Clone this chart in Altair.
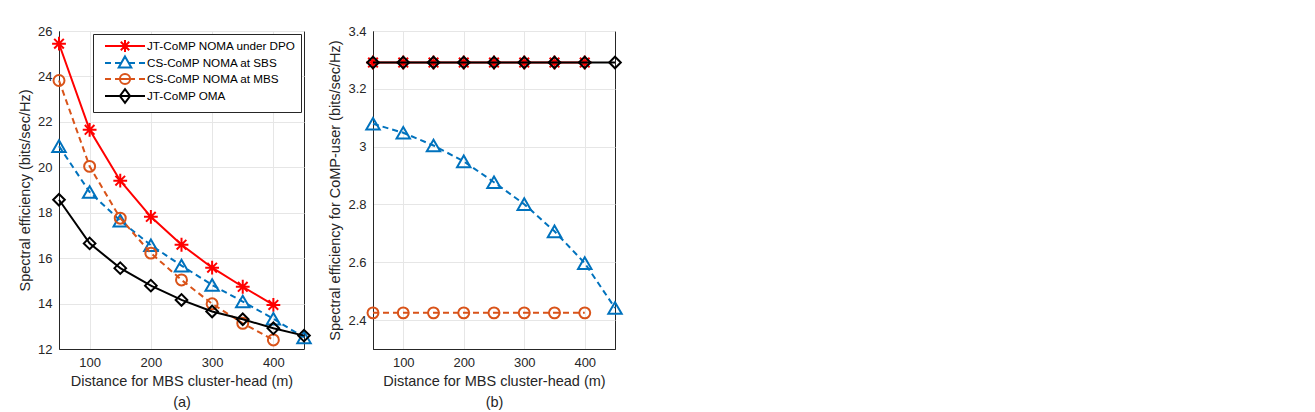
import altair as alt
import pandas as pd

# ---------------- data ----------------
dist_full = [50, 100, 150, 200, 250, 300, 350, 400, 450]
dist_8 = [50, 100, 150, 200, 250, 300, 350, 400]

series_names = ["JT-CoMP NOMA under DPO", "CS-CoMP NOMA at SBS",
                "CS-CoMP NOMA at MBS", "JT-CoMP OMA"]
series_colors = ["#ff0000", "#0072bd", "#d95319", "#000000"]

# panel (a): total spectral efficiency
a_jt_noma = [25.44, 21.65, 19.41, 17.82, 16.59, 15.58, 14.74, 13.94]
a_cs_sbs = [20.93, 18.91, 17.65, 16.57, 15.67, 14.82, 14.09, 13.33, 12.51]
a_cs_mbs = [23.82, 20.04, 17.76, 16.22, 15.04, 13.99, 13.13, 12.40]
a_jt_oma = [18.57, 16.65, 15.56, 14.79, 14.16, 13.65, 13.31, 12.91, 12.59]

# panel (b): spectral efficiency of the CoMP-user
b_jt_noma = [3.291, 3.291, 3.291, 3.291, 3.291, 3.291, 3.291, 3.291]
b_cs_sbs = [3.079, 3.048, 3.004, 2.949, 2.877, 2.801, 2.707, 2.597, 2.442]
b_cs_mbs = [2.425, 2.425, 2.425, 2.425, 2.425, 2.425, 2.425, 2.425]
b_jt_oma = [3.291, 3.291, 3.291, 3.291, 3.291, 3.291, 3.291, 3.291, 3.291]

x_ticks = [100, 200, 300, 400]
a_y_ticks = [12, 14, 16, 18, 20, 22, 24, 26]
b_y_ticks = [2.4, 2.6, 2.8, 3.0, 3.2, 3.4]

# ---------------- styles ----------------
FONT = "Liberation Sans"
ASTERISK = "M-1,0L1,0M0,-1L0,1M-0.7,-0.7L0.7,0.7M-0.7,0.7L0.7,-0.7"
marker_shapes = [ASTERISK, "triangle-up", "circle", "diamond"]
marker_sizes = [190, 180, 120, 135]
dashes = [None, [6, 4], [6, 4], None]

# legend symbols: line segment + marker (unit = sqrt(144)/2 = 6 px)
DASHED = "M-3.333,0L-2.333,0M-1.667,0L-0.667,0M0.667,0L1.667,0M2.333,0L3.333,0"
legend_shapes = [
    "M-3.333,0L3.333,0M-1,0L1,0M0,-1L0,1M-0.7,-0.7L0.7,0.7M-0.7,0.7L0.7,-0.7",
    DASHED + "M0,-1.1L1.05,0.75L-1.05,0.75Z",
    DASHED + "M-0.85,0L0.85,0M0.85,0A0.85,0.85,0,1,1,-0.85,0A0.85,0.85,0,1,1,0.85,0",
    "M-3.333,0L3.333,0M0,-1.15L0.85,0L0,1.15L-0.85,0Z",
]


def frame(xs, ys, name):
    return pd.DataFrame({"d": xs, "v": ys, "s": name})


def panel(series, y_domain, y_ticks, y_title, caption, with_legend, width):
    xscale = alt.Scale(domain=[50, 450], nice=False, zero=False)
    yscale = alt.Scale(domain=y_domain, nice=False, zero=False)
    xaxis = alt.Axis(values=x_ticks, title=["Distance for MBS cluster-head (m)", caption],
                     titleLineHeight=21, grid=True)
    yaxis = alt.Axis(values=y_ticks, title=y_title, format="~g", grid=True)
    layers = []
    for i, (xs, ys) in enumerate(series):
        df = frame(xs, ys, series_names[i])
        line_kw = dict(color=series_colors[i], strokeWidth=2)
        if dashes[i]:
            line_kw["strokeDash"] = dashes[i]
        base = alt.Chart(df)
        layers.append(base.mark_line(**line_kw).encode(
            x=alt.X("d:Q", scale=xscale, axis=xaxis),
            y=alt.Y("v:Q", scale=yscale, axis=yaxis)))
        layers.append(base.mark_point(shape=marker_shapes[i], size=marker_sizes[i],
                                      filled=False, color=series_colors[i],
                                      strokeWidth=2, opacity=1).encode(
            x=alt.X("d:Q", scale=xscale, axis=xaxis),
            y=alt.Y("v:Q", scale=yscale, axis=yaxis)))
    if with_legend:
        leg_df = pd.DataFrame({"d": [0, 0, 0, 0], "v": [y_domain[0]] * 4, "s": series_names})
        layers.append(alt.Chart(leg_df).mark_point(filled=False, strokeWidth=2, clip=True,
                                                   opacity=1, size=144).encode(
            x=alt.X("d:Q", scale=xscale, axis=xaxis),
            y=alt.Y("v:Q", scale=yscale, axis=yaxis),
            color=alt.Color("s:N", scale=alt.Scale(domain=series_names, range=series_colors),
                            legend=alt.Legend(title=None, orient="top-right")),
            shape=alt.Shape("s:N", scale=alt.Scale(domain=series_names, range=legend_shapes),
                            legend=alt.Legend(title=None, orient="top-right")),
        ))
    return alt.layer(*layers).properties(width=width, height=318)


left = panel([(dist_8, a_jt_noma), (dist_full, a_cs_sbs), (dist_8, a_cs_mbs), (dist_full, a_jt_oma)],
             [12, 26], a_y_ticks, "Spectral efficiency (bits/sec/Hz)", "(a)", True, 245)
right = panel([(dist_8, b_jt_noma), (dist_full, b_cs_sbs), (dist_8, b_cs_mbs), (dist_full, b_jt_oma)],
              [2.3, 3.4], b_y_ticks, "Spectral efficiency for CoMP-user (bits/sec/Hz)", "(b)", False, 242)

chart = alt.hconcat(left, right, spacing=11).resolve_scale(
    color="independent", shape="independent"
).resolve_legend(
    color="independent", shape="independent"
).properties(
    padding={"left": 9, "top": 16, "right": 5, "bottom": 5}
).configure_view(
    stroke="#262626", strokeWidth=1
).configure_axis(
    labelFont=FONT, titleFont=FONT, labelFontSize=13, titleFontSize=14.5,
    titleFontWeight="normal", labelColor="#262626", titleColor="#262626",
    domainColor="#262626", tickSize=0, labelPadding=7, titlePadding=5,
    gridColor="#e6e6e6", gridWidth=1
).configure_legend(
    labelFont=FONT, labelFontSize=11.7, labelColor="#000000", labelLimit=0,
    strokeColor="#262626", fillColor="white", padding=5, offset=3,
    symbolSize=144, symbolStrokeWidth=2, symbolOffset=20, labelOffset=15,
    rowPadding=-4, symbolType="circle"
)

chart.save("out.html", embed_options={"renderer": "svg", "actions": False})
